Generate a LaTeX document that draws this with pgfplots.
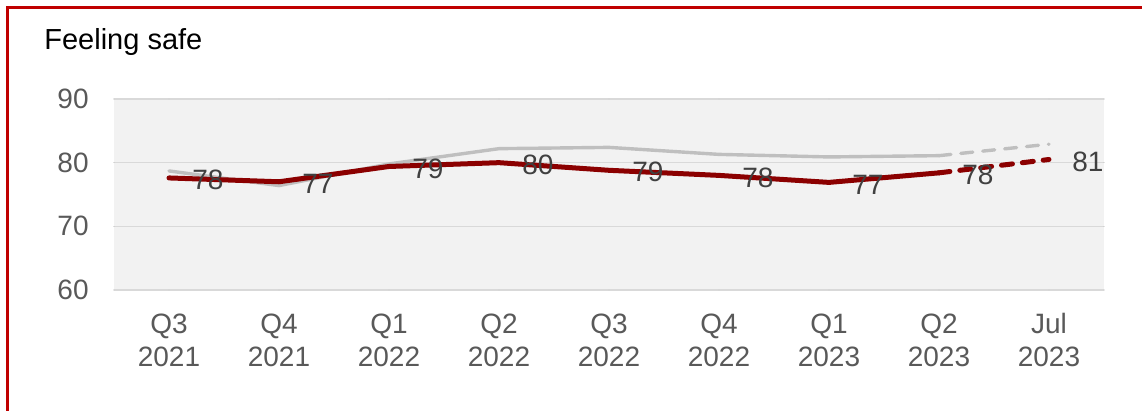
\documentclass[border=0pt]{standalone}
\usepackage{fontspec}
\setmainfont{Liberation Sans}
\usepackage{pgfplots}
\pgfplotsset{compat=1.18}
\usepackage{pgfplotstable}
\definecolor{frameRed}{RGB}{192,0,0}
\definecolor{lineRed}{RGB}{139,0,0}
\definecolor{lineGray}{RGB}{191,191,191}
\definecolor{bgGray}{RGB}{242,242,242}
\definecolor{gridGray}{RGB}{217,217,217}
\definecolor{tickGray}{RGB}{89,89,89}
\definecolor{labGray}{RGB}{64,64,64}

\pgfplotstableread{
x red gray lab
0 77.6 78.7 78
1 77.0 76.4 77
2 79.4 79.8 79
3 80.0 82.2 80
4 78.8 82.4 79
5 78.0 81.3 78
6 76.9 80.9 77
7 78.4 81.1 78
8 80.5 82.9 81
}\datatab

\begin{document}
\begin{tikzpicture}
\useasboundingbox (-57pt,-60.5pt) rectangle (514pt,145pt);
\fill[white] (-57pt,-60.5pt) rectangle (514pt,145pt);
\draw[frameRed, line width=1.25pt] (-53.25pt,-62pt) -- (-53.25pt,141.25pt) -- (516pt,141.25pt);
\node[anchor=base west, inner sep=0pt, font=\fontsize{14.5}{17}\selectfont] at (-35pt,120pt) {Feeling safe};
\begin{axis}[
  at={(0pt,0pt)}, anchor=south west,
  scale only axis,
  width=495pt, height=95.5pt,
  xmin=-0.5, xmax=8.5,
  ymin=60, ymax=90,
  axis background/.style={fill=bgGray},
  axis line style={draw=none},
  major tick length=0pt,
  ytick={60,70,80,90},
  yticklabels={60,70,80,90},
  ymajorgrids,
  grid style={gridGray, line width=0.75pt},
  xtick={0,1,2,3,4,5,6,7,8},
  xticklabels={{\strut Q3\\2021},{\strut Q4\\2021},{\strut Q1\\2022},{\strut Q2\\2022},{\strut Q3\\2022},{\strut Q4\\2022},{\strut Q1\\2023},{\strut Q2\\2023},{\strut Jul\\2023}},
  xticklabel style={align=center, anchor=north, inner sep=0pt, yshift=-10pt, text=tickGray, font=\fontsize{14}{16.5}\selectfont},
  yticklabel style={anchor=east, inner sep=0pt, xshift=-12.5pt, text=tickGray, font=\fontsize{14}{16.5}\selectfont},
  clip=false,
  line join=round, line cap=round,
]
\addplot[lineGray, line width=1.7pt, restrict x to domain=0:7] table[x=x, y=gray] {\datatab};
\addplot[lineGray, line width=1.7pt, dash pattern=on 6pt off 5pt, restrict x to domain=7:8] table[x=x, y=gray] {\datatab};
\addplot[lineRed, line width=2.5pt, restrict x to domain=0:7] table[x=x, y=red] {\datatab};
\addplot[lineRed, line width=2.5pt, dash pattern=on 5.5pt off 5pt, restrict x to domain=7:8] table[x=x, y=red] {\datatab};
\addplot[draw=none, mark=none, nodes near coords, point meta=explicit symbolic,
  every node near coord/.style={anchor=west, inner sep=0pt, xshift=11.5pt, yshift=-1pt, text=labGray, font=\fontsize{14}{16.5}\selectfont}]
  table[x=x, y=red, meta=lab] {\datatab};
\end{axis}
\end{tikzpicture}
\end{document}
